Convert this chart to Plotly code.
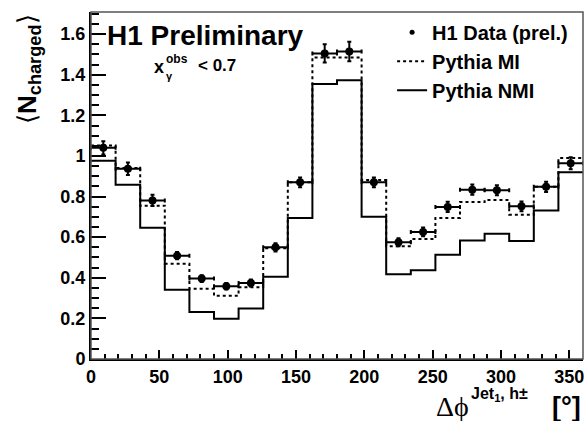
import plotly.graph_objects as go

# Azimuthal bins (degrees)
bin_edges = [0, 18, 36, 54, 72, 90, 108, 126, 144, 162, 180,
             198, 216, 234, 252, 270, 288, 306, 324, 342, 360]
bin_centers = [9, 27, 45, 63, 81, 99, 117, 135, 153, 171,
               189, 207, 225, 243, 261, 279, 297, 315, 333, 351]

# H1 data with statistical errors
h1_data = [1.040, 0.937, 0.781, 0.509, 0.396, 0.358, 0.374, 0.550, 0.870, 1.505,
           1.514, 0.870, 0.575, 0.626, 0.749, 0.834, 0.831, 0.752, 0.848, 0.964]
h1_err = [0.033, 0.031, 0.028, 0.018, 0.017, 0.016, 0.017, 0.020, 0.024, 0.045,
          0.048, 0.024, 0.020, 0.022, 0.025, 0.025, 0.025, 0.024, 0.025, 0.030]

# Monte Carlo predictions
pythia_mi = [1.052, 0.941, 0.755, 0.469, 0.346, 0.312, 0.353, 0.546, 0.870, 1.485,
             1.485, 0.882, 0.555, 0.591, 0.695, 0.773, 0.783, 0.711, 0.848, 0.990]
pythia_nmi = [0.977, 0.858, 0.647, 0.341, 0.231, 0.198, 0.249, 0.405, 0.694, 1.355,
              1.373, 0.700, 0.417, 0.437, 0.514, 0.584, 0.617, 0.581, 0.731, 0.920]

half_width = [(bin_edges[i + 1] - bin_edges[i]) / 2 for i in range(len(bin_centers))]

FONT = "Liberation Sans"

fig = go.Figure()

fig.add_trace(go.Scatter(
    x=bin_edges, y=pythia_nmi + [pythia_nmi[-1]], mode="lines",
    line=dict(shape="hv", color="black", width=2),
    name="Pythia NMI", legendrank=3,
))
fig.add_trace(go.Scatter(
    x=bin_edges, y=pythia_mi + [pythia_mi[-1]], mode="lines",
    line=dict(shape="hv", color="black", width=2, dash="3px,3px"),
    name="Pythia MI", legendrank=2,
))
fig.add_trace(go.Scatter(
    x=bin_centers, y=h1_data, mode="markers",
    marker=dict(size=8, color="black"),
    error_y=dict(type="data", array=h1_err, thickness=2, width=2, color="black"),
    error_x=dict(type="data", array=half_width, thickness=2, width=2, color="black"),
    name="H1 Data (prel.)", showlegend=False,
))
# legend entry for the data (small dot symbol)
fig.add_trace(go.Scatter(
    x=[None], y=[None], mode="markers",
    marker=dict(size=5, color="black"),
    name="H1 Data (prel.)", legendrank=1,
))

fig.update_layout(
    width=584, height=421,
    margin=dict(l=91, r=1, t=12, b=62),
    paper_bgcolor="white", plot_bgcolor="white",
    showlegend=True,
    legend=dict(
        x=0.612, y=0.998, xanchor="left", yanchor="top",
        bgcolor="rgba(0,0,0,0)",
        font=dict(family=FONT, size=20, color="black", weight="bold"),
        tracegroupgap=0, itemwidth=30,
    ),
    xaxis=dict(
        range=[0, 360], showgrid=False, zeroline=False,
        showline=True, linecolor="black", linewidth=2,
        ticks="inside", ticklen=9, tickwidth=1.5, tickcolor="black",
        tickvals=[0, 50, 100, 150, 200, 250, 300, 350],
        ticklabeloverflow="allow",
        minor=dict(dtick=10, ticks="inside", ticklen=5, tickwidth=1.5, tickcolor="black"),
        tickfont=dict(family=FONT, size=18, color="black", weight="bold"),
    ),
    yaxis=dict(
        range=[0, 1.709], showgrid=False, zeroline=False,
        showline=True, linecolor="black", linewidth=2,
        ticks="inside", ticklen=15, tickwidth=1.5, tickcolor="black",
        tickvals=[0, 0.2, 0.4, 0.6, 0.8, 1.0, 1.2, 1.4, 1.6],
        ticktext=["0", "0.2", "0.4", "0.6", "0.8", "1", "1.2", "1.4", "1.6"],
        minor=dict(dtick=0.05, ticks="inside", ticklen=8, tickwidth=1.5, tickcolor="black"),
        tickfont=dict(family=FONT, size=18, color="black", weight="bold"),
    ),
)

# Frame (top and right edges)
fig.add_shape(type="rect", xref="paper", yref="paper", x0=0, x1=1, y0=0, y1=1,
              line=dict(color="#555555", width=1.5), layer="above")

def px_x(p):
    return (p - 91) / 492.0

def px_y(p):
    return (421 - 62 - p) / 347.0

annotations = [
    dict(text="<b>H1 Preliminary</b>", x=px_x(105), y=px_y(35), xanchor="left", yanchor="middle",
         font=dict(family=FONT, size=28, color="black")),
    dict(text="<b>x</b>", x=px_x(152), y=px_y(67), xanchor="left", yanchor="middle",
         font=dict(family=FONT, size=18, color="black")),
    dict(text="<b>obs</b>", x=px_x(164), y=px_y(59), xanchor="left", yanchor="middle",
         font=dict(family=FONT, size=12, color="black")),
    dict(text="<b>γ</b>", x=px_x(164), y=px_y(76), xanchor="left", yanchor="middle",
         font=dict(family=FONT, size=11, color="black")),
    dict(text="<b>< 0.7</b>", x=px_x(196), y=px_y(66), xanchor="left", yanchor="middle",
         font=dict(family=FONT, size=17, color="black")),
    dict(text="⟨<b>N<sub>charged</sub></b>⟩", textangle=-90, x=px_x(28), y=px_y(12),
         xanchor="center", yanchor="top",
         font=dict(family=FONT, size=26, color="black")),
    dict(text="Δϕ", x=px_x(452), y=px_y(406), xanchor="center", yanchor="middle",
         font=dict(family="Liberation Serif", size=28, color="black")),
    dict(text="<b>Jet<sub>1</sub>, h±</b>", x=px_x(470), y=px_y(394), xanchor="left", yanchor="middle",
         borderpad=0, font=dict(family=FONT, size=16, color="black")),
    dict(text="<b>[°]</b>", x=px_x(583), y=px_y(407), xanchor="right", yanchor="middle",
         font=dict(family=FONT, size=27, color="black")),
]
for a in annotations:
    fig.add_annotation(xref="paper", yref="paper", showarrow=False, **a)

fig.write_html("out.html")
